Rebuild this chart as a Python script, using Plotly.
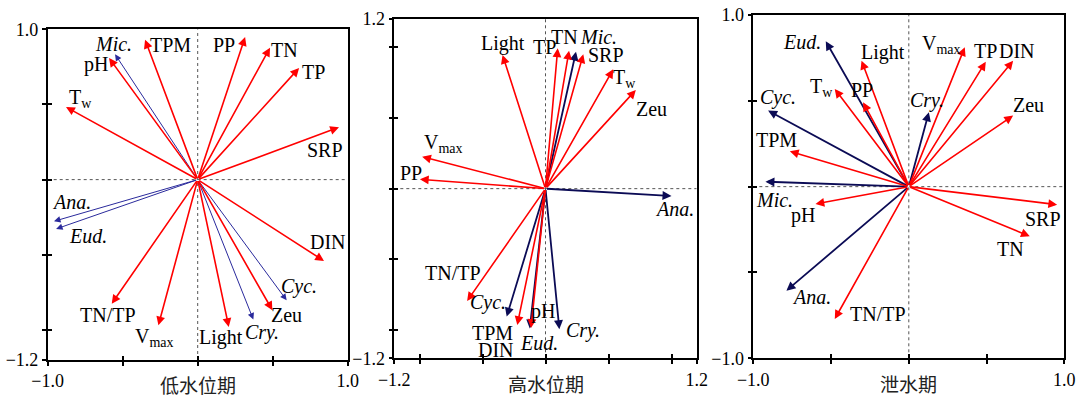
import plotly.graph_objects as go

# ---------------- data (RDA loadings) ----------------
# Panel 1: 低水位期
low_env_names = ["TPM", "PP", "TN", "TP", "SRP", "pH", "T<sub>w</sub>", "DIN", "Zeu", "Light", "V<sub>max</sub>", "TN/TP"]
low_env_x = [-0.351, 0.316, 0.482, 0.676, 0.942, -0.591, -0.878, 0.842, 0.498, 0.207, -0.262, -0.573]
low_env_y = [0.931, 0.949, 0.878, 0.743, 0.348, 0.809, 0.483, -0.541, -0.869, -0.980, -0.969, -0.825]
low_sp_names = ["Mic.", "Ana.", "Eud.", "Cyc.", "Cry."]
low_sp_x = [-0.551, -0.958, -0.944, 0.593, 0.371]
low_sp_y = [0.834, -0.277, -0.328, -0.803, -0.931]

# Panel 2: 高水位期
high_env_names = ["Light", "TP", "TN", "SRP", "T<sub>w</sub>", "Zeu", "V<sub>max</sub>", "PP", "TN/TP", "TPM", "pH"]
high_env_x = [-0.341, 0.097, 0.187, 0.300, 0.537, 0.717, -0.979, -0.997, -0.622, -0.224, -0.115]
high_env_y = [0.946, 0.993, 0.976, 0.950, 0.844, 0.698, 0.226, 0.066, -0.795, -0.964, -0.985]
high_sp_names = ["Mic.", "Ana.", "Cyc.", "Eud.", "Cry."]
high_sp_x = [0.242, 1.000, -0.308, -0.125, 0.110]
high_sp_y = [0.969, -0.052, -0.905, -0.990, -0.994]

# Panel 3: 泄水期
dis_env_names = ["Light", "T<sub>w</sub>", "PP", "V<sub>max</sub>", "TP", "DIN", "Zeu", "TPM", "pH", "SRP", "TN", "TN/TP"]
dis_env_x = [-0.304, -0.476, -0.294, 0.360, 0.495, 0.671, 0.671, -0.765, -0.600, 0.954, 0.778, -0.476]
dis_env_y = [0.734, 0.569, 0.491, 0.812, 0.728, 0.734, 0.414, 0.206, -0.101, -0.105, -0.289, -0.771]
dis_sp_names = ["Eud.", "Cyc.", "Mic.", "Ana.", "Cry."]
dis_sp_x = [-0.534, -0.905, -0.922, -0.787, 0.129]
dis_sp_y = [0.847, 0.443, 0.029, -0.606, 0.433]

panel_titles = ["低水位期", "高水位期", "泄水期"]
x_ranges = [(-1.0, 1.0), (-1.2, 1.2), (-1.0, 1.0)]
y_ranges = [(-1.2, 1.0), (-1.2, 1.2), (-1.0, 1.0)]

# ---------------- label placement (layout only) ----------------
label_pos = [
    {  # panel 1
        "TPM": (-0.184, 0.894), "PP": (0.178, 0.894), "TN": (0.576, 0.865), "TP": (0.771, 0.716),
        "SRP": (0.849, 0.200), "pH": (-0.680, 0.765), "T<sub>w</sub>": (-0.784, 0.539),
        "DIN": (0.871, -0.415), "Zeu": (0.593, -0.902), "Light": (0.153, -1.047),
        "V<sub>max</sub>": (-0.291, -1.047), "TN/TP": (-0.600, -0.898),
        "Mic.": (-0.562, 0.905), "Ana.": (-0.840, -0.149), "Eud.": (-0.729, -0.377),
        "Cyc.": (0.678, -0.714), "Cry.": (0.431, -1.020),
    },
    {  # panel 2
        "Light": (-0.336, 1.028), "TP": (0.088, 1.000, "right"), "TN": (0.262, 1.075, "right"),
        "SRP": (0.484, 0.946),
        "T<sub>w</sub>": (0.630, 0.781), "Zeu": (0.841, 0.561), "V<sub>max</sub>": (-0.812, 0.321),
        "PP": (-1.071, 0.108), "TN/TP": (-0.738, -0.594), "TPM": (-0.423, -1.019),
        "pH": (-0.019, -0.870), "DIN": (-0.389, -1.142),
        "Mic.": (0.262, 1.075, "left"), "Ana.": (1.026, -0.146), "Cyc.": (-0.455, -0.807),
        "Eud.": (-0.050, -1.094), "Cry.": (0.294, -1.000),
    },
    {  # panel 3
        "Light": (-0.165, 0.783), "T<sub>w</sub>": (-0.562, 0.575), "PP": (-0.304, 0.563),
        "V<sub>max</sub>": (0.210, 0.831), "TP": (0.574, 0.788, "right"), "DIN": (0.574, 0.788, "left"),
        "Zeu": (0.767, 0.476), "TPM": (-0.851, 0.272), "pH": (-0.680, -0.169),
        "SRP": (0.864, -0.188), "TN": (0.656, -0.363), "TN/TP": (-0.197, -0.742),
        "Eud.": (-0.690, 0.841), "Cyc.": (-0.840, 0.520), "Mic.": (-0.862, -0.078),
        "Ana.": (-0.626, -0.641), "Cry.": (0.118, 0.501),
    },
]

panels = [
    (low_env_names, low_env_x, low_env_y, low_sp_names, low_sp_x, low_sp_y),
    (high_env_names, high_env_x, high_env_y, high_sp_names, high_sp_x, high_sp_y),
    (dis_env_names, dis_env_x, dis_env_y, dis_sp_names, dis_sp_x, dis_sp_y),
]

W, H = 1084, 397
# plot boxes in pixels (left, right, top, bottom)
boxes = [(47.7, 347.7, 29.3, 360.0), (394.3, 696.7, 19.0, 358.3), (753.3, 1064.3, 15.0, 358.3)]
title_pos = [(197.7, 384), (545.5, 383), (908.0, 383.5)]

RED = "#ff0000"
BLUE_THIN = "#2a2a9c"
NAVY = "#0b0b55"
SERIF = "Liberation Serif, Times New Roman, serif"
CJK = "Noto Sans CJK SC"

fig = go.Figure()
annotations = []
shapes = []


def ticks(lo, hi):
    vals = [lo]
    v = -1.0
    while v <= 1.0001:
        if lo - 1e-9 < v < hi + 1e-9 and abs(v - lo) > 1e-6:
            vals.append(round(v, 2))
        v += 0.5
    if abs(vals[-1] - hi) > 1e-6:
        vals.append(hi)
    text = ["" for _ in vals]
    text[0] = f"{lo:.1f}".replace("-", "\u2212")
    text[-1] = f"{hi:.1f}".replace("-", "\u2212")
    return vals, text


for i, (en, ex, ey, sn, sx, sy) in enumerate(panels):
    k = "" if i == 0 else str(i + 1)
    xr, yr = "x" + k, "y" + k
    ko = str(i + 4)                      # overlay axes carrying the inner half of the ticks
    l, r, t, b = boxes[i]
    xmin, xmax = x_ranges[i]
    ymin, ymax = y_ranges[i]

    xv, xt = ticks(xmin, xmax)
    yv, yt = ticks(ymin, ymax)
    axis_common = dict(showgrid=False, zeroline=False, showline=True, linecolor="black", linewidth=1.5,
                       mirror=True, ticks="outside", ticklen=4, tickwidth=1.8, tickcolor="black",
                       automargin=False,
                       tickfont=dict(family=SERIF, size=18, color="black"))
    inner_common = dict(showgrid=False, zeroline=False, showline=False, ticks="inside", ticklen=4,
                        tickwidth=1.8, tickcolor="black", showticklabels=False, automargin=False)
    fig.update_layout(**{
        "xaxis" + k: dict(domain=[l / W, r / W], range=[xmin, xmax], tickvals=xv, ticktext=xt,
                          anchor=yr, **axis_common),
        "yaxis" + k: dict(domain=[1 - b / H, 1 - t / H], range=[ymin, ymax], tickvals=yv, ticktext=yt,
                          anchor=xr, **axis_common),
        "xaxis" + ko: dict(overlaying=xr, range=[xmin, xmax], tickvals=xv, anchor=yr, side="bottom",
                           **inner_common),
        "yaxis" + ko: dict(overlaying=yr, range=[ymin, ymax], tickvals=yv, anchor=xr, side="left",
                           **inner_common),
    })
    fig.add_trace(go.Scatter(x=[0], y=[0], mode="markers", marker=dict(size=1, opacity=0),
                             xaxis=xr, yaxis=yr, showlegend=False, hoverinfo="skip"))
    fig.add_trace(go.Scatter(x=[0], y=[0], mode="markers", marker=dict(size=1, opacity=0),
                             xaxis="x" + ko, yaxis="y" + ko, showlegend=False, hoverinfo="skip"))

    # dashed zero lines
    shapes.append(dict(type="line", xref=xr, yref=yr, x0=0, x1=0, y0=ymin, y1=ymax,
                       line=dict(color="#555555", width=1, dash="dot"), layer="below"))
    shapes.append(dict(type="line", xref=xr, yref=yr, x0=xmin, x1=xmax, y0=0, y1=0,
                       line=dict(color="#555555", width=1, dash="dot"), layer="below"))

    sp_color = BLUE_THIN if i == 0 else NAVY
    sp_width = 1.0 if i == 0 else 1.8
    sp_size = 1.3 if i == 0 else 1.0

    for name, x, y in zip(sn, sx, sy):
        annotations.append(dict(x=x, y=y, ax=0, ay=0, xref=xr, yref=yr, axref=xr, ayref=yr,
                                text="", showarrow=True, arrowhead=2, arrowsize=sp_size,
                                arrowwidth=sp_width, arrowcolor=sp_color, standoff=0, startstandoff=0))
    for name, x, y in zip(en, ex, ey):
        annotations.append(dict(x=x, y=y, ax=0, ay=0, xref=xr, yref=yr, axref=xr, ayref=yr,
                                text="", showarrow=True, arrowhead=2, arrowsize=1.1,
                                arrowwidth=1.6, arrowcolor=RED, standoff=0, startstandoff=0))

    for name, pos in label_pos[i].items():
        lx, ly = pos[0], pos[1]
        anchor = pos[2] if len(pos) > 2 else "center"
        is_sp = name in sn
        txt = f"<i>{name}</i>" if is_sp else name
        annotations.append(dict(x=lx, y=ly, xref=xr, yref=yr, text=txt, showarrow=False,
                                xanchor=anchor, yanchor="middle", borderpad=0,
                                font=dict(family=SERIF, size=20, color="black")))

    tx, ty = title_pos[i]
    annotations.append(dict(x=tx / W, y=1 - ty / H, xref="paper", yref="paper", text=panel_titles[i],
                            showarrow=False, xanchor="center", yanchor="middle", borderpad=0,
                            font=dict(family=CJK, size=19, color="#222222")))

fig.update_layout(template="none", width=W, height=H, margin=dict(l=0, r=0, t=0, b=0, pad=0),
                  paper_bgcolor="white", plot_bgcolor="white",
                  font=dict(family=SERIF),
                  annotations=annotations, shapes=shapes, showlegend=False)

fig.write_html("out.html", config={"displayModeBar": False},
               post_script="document.body.style.margin='0px';document.body.style.padding='0px';")
